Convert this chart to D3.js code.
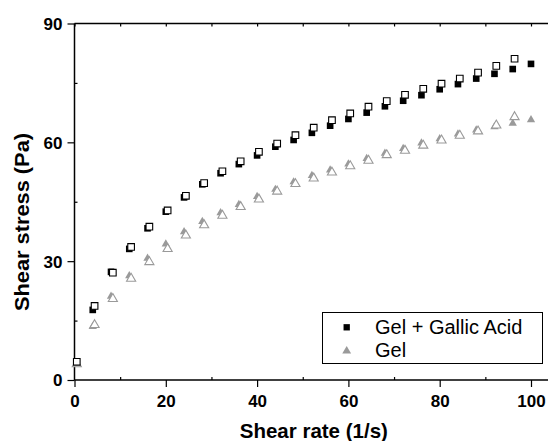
<!DOCTYPE html>
<html><head>
<meta charset="utf-8">
<script src="https://d3js.org/d3.v7.min.js"></script>
<style>
  body { margin: 0; background: #fff; }
  svg text { font-family: "Liberation Sans", Arial, sans-serif; }
  .axis .domain { stroke: none; }
  .axis line { stroke: #000; stroke-width: 1.2; }
  .axis text { font-size: 17px; font-weight: bold; fill: #000; }
</style>
</head>
<body>
<svg id="chart" width="548" height="441"></svg>
<script>

// data
// filled markers = ramp up, open markers = ramp down
const rateUp = [4, 8, 12, 16, 20, 24, 28, 32, 36, 40, 44, 48, 52, 56, 60, 64, 68, 72, 76, 80, 84, 88, 92, 96, 100];
const rateDown = [0.5, 4.4, 8.4, 12.4, 16.4, 20.4, 24.4, 28.4, 32.4, 36.4, 40.4, 44.4, 48.4, 52.4, 56.4, 60.4, 64.4, 68.4, 72.4, 76.4, 80.4, 84.4, 88.4, 92.4, 96.4];

const gallicUp = [17.7, 27.3, 33.1, 38.3, 42.5, 46.1, 49.4, 52.2, 54.5, 56.7, 58.9, 60.6, 62.4, 64.2, 65.9, 67.5, 69.1, 70.5, 71.9, 73.4, 74.7, 76.1, 77.3, 78.5, 79.8];
const gallicDown = [4.6, 18.7, 27.1, 33.6, 38.7, 42.8, 46.5, 49.7, 52.7, 55.2, 57.6, 59.7, 61.8, 63.7, 65.6, 67.3, 69.0, 70.4, 72.0, 73.5, 74.8, 76.1, 77.6, 79.3, 81.1];
const gelUp = [13.5, 21.1, 26.3, 30.7, 34.3, 37.4, 40.0, 42.2, 44.3, 46.3, 48.1, 50.0, 51.6, 53.0, 54.5, 55.9, 57.2, 58.4, 59.8, 60.9, 62.1, 63.1, 63.9, 64.8, 65.7];
const gelDown = [4.0, 13.9, 20.5, 25.6, 29.8, 33.1, 36.5, 39.1, 41.5, 43.7, 45.6, 47.6, 49.5, 50.9, 52.4, 54.0, 55.4, 56.8, 57.9, 59.2, 60.5, 61.7, 62.8, 64.3, 66.4];

const xMajor = [0, 20, 40, 60, 80, 100];
const xMinor = [10, 30, 50, 70, 90];
const xTop = [0, 10, 20, 30, 40, 50, 60, 70, 80, 90, 100];
const yMajor = [0, 30, 60, 90];
const yMinor = [15, 45, 75];

const legendNames = ["Gel + Gallic Acid", "Gel"];

const svg = d3.select("svg#chart");
const width = +svg.attr("width");

const margin = {top: 23.5, left: 74.5, bottom: 380, right: 531};

const x = d3.scaleLinear().domain([0, 100]).range([margin.left, margin.right]);
const y = d3.scaleLinear().domain([0, 90]).range([margin.bottom, margin.top]);

const grey = "#9a9a9a";

// frame lines (plot runs off the right edge of the picture)
svg.append("line")
  .attr("x1", margin.left).attr("x2", width)
  .attr("y1", margin.bottom).attr("y2", margin.bottom)
  .attr("stroke", "#000").attr("stroke-width", 1.5);
svg.append("line")
  .attr("x1", margin.left).attr("x2", width)
  .attr("y1", margin.top).attr("y2", margin.top)
  .attr("stroke", "#000").attr("stroke-width", 1.5);
svg.append("line")
  .attr("x1", margin.left).attr("x2", margin.left)
  .attr("y1", margin.top).attr("y2", margin.bottom)
  .attr("stroke", "#000").attr("stroke-width", 1.5);

// bottom axis: major ticks outward, minor inward
svg.append("g").attr("class", "axis")
  .attr("transform", "translate(0," + margin.bottom + ")")
  .call(d3.axisBottom(x).tickValues(xMajor).tickSize(7).tickSizeOuter(0).tickPadding(8).tickFormat(d3.format("d")));
svg.append("g").attr("class", "axis")
  .attr("transform", "translate(0," + margin.bottom + ")")
  .call(d3.axisBottom(x).tickValues(xMinor).tickSize(-3).tickSizeOuter(0).tickFormat(""));

// top axis: small inward ticks only
svg.append("g").attr("class", "axis")
  .attr("transform", "translate(0," + margin.top + ")")
  .call(d3.axisTop(x).tickValues(xTop).tickSize(-3).tickSizeOuter(0).tickFormat(""));

// left axis
svg.append("g").attr("class", "axis")
  .attr("transform", "translate(" + margin.left + ",0)")
  .call(d3.axisLeft(y).tickValues(yMajor).tickSize(7).tickSizeOuter(0).tickPadding(5).tickFormat(d3.format("d")));
svg.append("g").attr("class", "axis")
  .attr("transform", "translate(" + margin.left + ",0)")
  .call(d3.axisLeft(y).tickValues(yMinor).tickSize(-3).tickSizeOuter(0).tickFormat(""));

svg.selectAll(".axis text").attr("dy", function() {
  return d3.select(this.parentNode.parentNode).attr("transform").indexOf("translate(0") === 0 ? "0.71em" : "0.35em";
});

// axis titles
svg.append("text")
  .attr("x", 313.8).attr("y", 438)
  .attr("text-anchor", "middle")
  .attr("font-size", "20.5px").attr("font-weight", "bold")
  .text("Shear rate (1/s)");

svg.append("text")
  .attr("transform", "translate(28.5,222) rotate(-90)")
  .attr("text-anchor", "middle")
  .attr("font-size", "21px").attr("font-weight", "bold")
  .attr("textLength", 178).attr("lengthAdjust", "spacingAndGlyphs")
  .text("Shear stress (Pa)");

// markers
const square = d3.symbol().type(d3.symbolSquare).size(44);
const triFilled = d3.symbol().type(d3.symbolTriangle).size(30);
const triOpen = d3.symbol().type(d3.symbolTriangle).size(36);

function plot(xs, ys, path, fill, stroke) {
  svg.append("g").selectAll("path")
    .data(ys)
    .join("path")
    .attr("transform", (d, i) => "translate(" + x(xs[i]) + "," + y(d) + ")")
    .attr("d", path)
    .attr("fill", fill)
    .attr("stroke", stroke)
    .attr("stroke-width", stroke === "none" ? 0 : 1.1);
}

plot(rateUp, gelUp, triFilled, grey, "none");
plot(rateDown, gelDown, triOpen, "#fff", grey);
plot(rateUp, gallicUp, square, "#000", "none");
plot(rateDown, gallicDown, square, "#fff", "#000");

// legend
const legend = svg.append("g");
legend.append("rect")
  .attr("x", 322.5).attr("y", 312.5)
  .attr("width", 220).attr("height", 51)
  .attr("fill", "#fff").attr("stroke", "#000").attr("stroke-width", 1);

legend.append("path").attr("transform", "translate(346.7,327.3)")
  .attr("d", d3.symbol().type(d3.symbolSquare).size(40)).attr("fill", "#000");
legend.append("path").attr("transform", "translate(346.7,351)")
  .attr("d", d3.symbol().type(d3.symbolTriangle).size(34)).attr("fill", grey);

legend.selectAll("text.lab")
  .data(legendNames)
  .join("text")
  .attr("class", "lab")
  .attr("x", 375)
  .attr("y", (d, i) => 334.3 + i * 23)
  .attr("font-size", "20px")
  .text(d => d);

</script>
</body>
</html>
